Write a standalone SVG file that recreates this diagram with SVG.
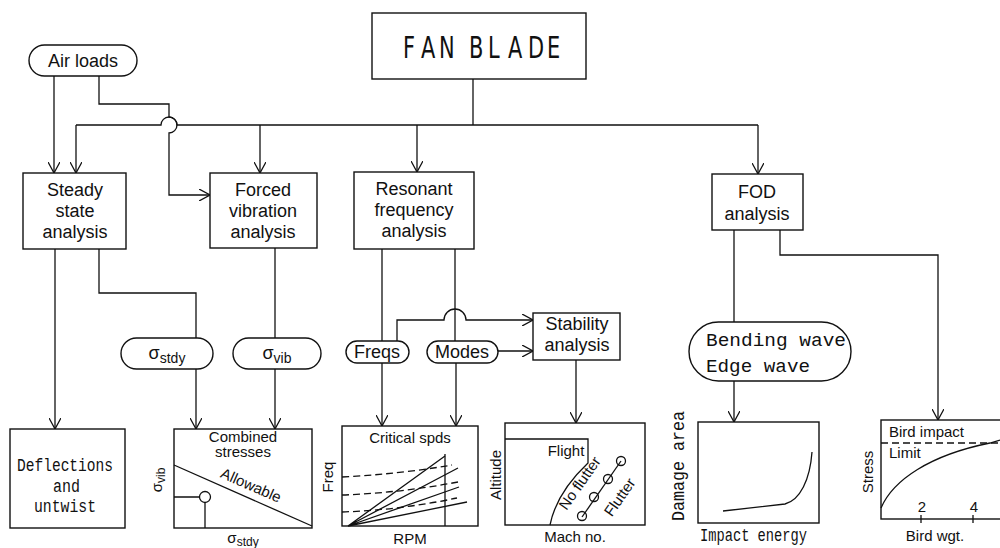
<svg xmlns="http://www.w3.org/2000/svg" width="1000" height="548" viewBox="0 0 1000 548">
<defs>
<style>
.box{fill:#fff;stroke:#111;stroke-width:1.4}
.ln{fill:none;stroke:#111;stroke-width:1.3}
.dash{fill:none;stroke:#111;stroke-width:1.3;stroke-dasharray:7 4}
.t{font-family:"Liberation Sans",Arial,sans-serif;font-size:18px;fill:#111;text-anchor:middle}
.s{font-family:"Liberation Sans",Arial,sans-serif;font-size:15px;fill:#111;text-anchor:middle}
.sl{font-family:"Liberation Sans",Arial,sans-serif;font-size:15px;fill:#111;text-anchor:start}
.m{font-family:"Liberation Mono","Courier New",monospace;font-size:18px;fill:#111}
</style>
<marker id="ar" viewBox="0 0 12 12" refX="11" refY="6" markerWidth="12" markerHeight="12" markerUnits="userSpaceOnUse" orient="auto">
<path d="M0,0 L11,6 L0,12" fill="none" stroke="#111" stroke-width="1.3"/>
</marker>
</defs>
<rect width="1000" height="548" fill="#fff"/>

<g id="connectors">
<path class="ln" d="M473,79 V125"/>
<path class="ln" d="M76,125 H161 A8,8 0 0 1 177,125 H758"/>
<path class="ln" d="M76,125 V173" marker-end="url(#ar)"/>
<path class="ln" d="M260,125 V173" marker-end="url(#ar)"/>
<path class="ln" d="M417,125 V172" marker-end="url(#ar)"/>
<path class="ln" d="M758,125 V174" marker-end="url(#ar)"/>
<path class="ln" d="M54,76 V173" marker-end="url(#ar)"/>
<path class="ln" d="M99,76 V104 H169 V117 A8,8 0 0 1 169,133 V195 H210" marker-end="url(#ar)"/>
<path class="ln" d="M55,249 V429" marker-end="url(#ar)"/>
<path class="ln" d="M99,249 V293 H196 V338"/>
<path class="ln" d="M196,369 V429" marker-end="url(#ar)"/>
<path class="ln" d="M275,248 V338"/>
<path class="ln" d="M275,369 V429" marker-end="url(#ar)"/>
<path class="ln" d="M382,249 V341"/>
<path class="ln" d="M382,363 V426" marker-end="url(#ar)"/>
<path class="ln" d="M455,249 V341"/>
<path class="ln" d="M456,363 V426" marker-end="url(#ar)"/>
<path class="ln" d="M397,341 V320 H444 A11,11 0 0 1 466,320 H533" marker-end="url(#ar)"/>
<path class="ln" d="M498,351 H533" marker-end="url(#ar)"/>
<path class="ln" d="M576,360 V423" marker-end="url(#ar)"/>
<path class="ln" d="M734,230 V322"/>
<path class="ln" d="M734,381 V422" marker-end="url(#ar)"/>
<path class="ln" d="M780,230 V255 H938 V420" marker-end="url(#ar)"/>
</g>

<g id="fan-blade">
<rect class="box" x="372" y="13" width="214" height="66"/>
<text transform="scale(0.75,1)" x="537.3 561.3 585.3 605.3 625.3 650.7 677.3 704 729.3" y="58" font-family="'DejaVu Sans Condensed','Liberation Sans',sans-serif" font-size="31" fill="#111">FAN BLADE</text>
</g>

<g id="air-loads">
<rect class="box" x="29" y="45" width="108" height="31" rx="15.5"/>
<text class="t" x="83" y="67">Air loads</text>
</g>

<g id="steady">
<rect class="box" x="23" y="173" width="103" height="76"/>
<text class="t" x="75" y="196">Steady</text>
<text class="t" x="75" y="217">state</text>
<text class="t" x="75" y="238">analysis</text>
</g>

<g id="forced">
<rect class="box" x="210" y="173" width="107" height="75"/>
<text class="t" x="263" y="196">Forced</text>
<text class="t" x="263" y="217">vibration</text>
<text class="t" x="263" y="238">analysis</text>
</g>

<g id="resonant">
<rect class="box" x="354" y="172" width="120" height="77"/>
<text class="t" x="414" y="195">Resonant</text>
<text class="t" x="414" y="216">frequency</text>
<text class="t" x="414" y="237">analysis</text>
</g>

<g id="fod">
<rect class="box" x="712" y="174" width="91" height="56"/>
<text class="t" x="757" y="198">FOD</text>
<text class="t" x="757" y="220">analysis</text>
</g>

<g id="sigma-stdy">
<rect class="box" x="121" y="338" width="92" height="31" rx="15.5"/>
<text class="t" x="167" y="359">σ<tspan font-size="14" dy="4">stdy</tspan></text>
</g>

<g id="sigma-vib">
<rect class="box" x="233" y="338" width="88" height="31" rx="15.5"/>
<text class="t" x="277" y="359">σ<tspan font-size="14" dy="4">vib</tspan></text>
</g>

<g id="freqs">
<rect class="box" x="346" y="341" width="63" height="22" rx="11"/>
<text class="t" x="377" y="358">Freqs</text>
</g>

<g id="modes">
<rect class="box" x="427" y="341" width="71" height="22" rx="11"/>
<text class="t" x="462" y="358">Modes</text>
</g>

<g id="stability">
<rect class="box" x="533" y="313" width="87" height="47"/>
<text class="t" x="577" y="330">Stability</text>
<text class="t" x="577" y="351">analysis</text>
</g>

<g id="bending">
<rect class="box" x="689" y="322" width="162" height="59" rx="29.5"/>
<text class="m" x="706" y="346" font-size="20" textLength="140" lengthAdjust="spacingAndGlyphs">Bending wave</text>
<text class="m" x="706" y="372" font-size="20" textLength="104" lengthAdjust="spacingAndGlyphs">Edge wave</text>
</g>

<g id="deflections">
<rect class="box" x="10" y="429" width="115" height="99"/>
<text class="m" x="17" y="471" textLength="96" lengthAdjust="spacingAndGlyphs">Deflections</text>
<text class="m" x="53" y="492" textLength="27" lengthAdjust="spacingAndGlyphs">and</text>
<text class="m" x="34" y="512" textLength="62" lengthAdjust="spacingAndGlyphs">untwist</text>
</g>

<g id="combined">
<rect class="box" x="174" y="429" width="138" height="99"/>
<text class="s" x="243" y="442" font-size="12.5">Combined</text>
<text class="s" x="243" y="457" font-size="12.5">stresses</text>
<path class="ln" d="M174,465 L312,526"/>
<text class="s" transform="translate(249,490) rotate(23.8)">Allowable</text>
<circle class="ln" cx="205" cy="497" r="5.5" fill="#fff"/>
<path class="ln" d="M174,497 H199.5 M205,502.5 V528"/>
<text class="s" transform="translate(162,480) rotate(-90)">σ<tspan font-size="12" dy="3">vib</tspan></text>
<text class="s" x="243" y="543">σ<tspan font-size="12" dy="3">stdy</tspan></text>
</g>

<g id="critical">
<rect class="box" x="342" y="426" width="136" height="100"/>
<text class="s" x="410" y="443">Critical spds</text>
<path class="ln" d="M445,454 V526"/>
<path class="ln" d="M348,526 L445,456 M348,526 L458,468 M348,526 L459,487 M348,526 L467,502"/>
<path class="dash" d="M342,477 Q400,474 452,465 M342,495 Q400,493 458,482 M342,512 Q400,510 457,498"/>
<text class="s" transform="translate(333,477) rotate(-90)">Freq</text>
<text class="s" x="410" y="544">RPM</text>
</g>

<g id="flutter">
<rect class="box" x="505" y="423" width="140" height="102"/>
<path class="ln" d="M505,439 H588 V463 C570,480 555,500 550,525"/>
<text class="s" x="566" y="456">Flight</text>
<path class="ln" d="M621,461 L582,517"/>
<circle class="ln" cx="621" cy="461" r="4.5" fill="#fff"/>
<circle class="ln" cx="608" cy="479" r="4.5" fill="#fff"/>
<circle class="ln" cx="594" cy="497" r="4.5" fill="#fff"/>
<circle class="ln" cx="582" cy="516" r="4.5" fill="#fff"/>
<text class="s" font-size="14" transform="translate(584,486) rotate(-55)">No flutter</text>
<text class="s" font-size="14" transform="translate(624,500) rotate(-55)">Flutter</text>
<text class="s" transform="translate(501,475) rotate(-90)">Altitude</text>
<text class="s" x="575" y="542">Mach no.</text>
</g>

<g id="damage">
<rect class="box" x="698" y="422" width="121" height="101"/>
<path class="ln" d="M723,511 L785,504 C800,500 810,480 812,452"/>
<text class="m" font-size="20" transform="translate(684,466) rotate(-90)" text-anchor="middle" textLength="110" lengthAdjust="spacingAndGlyphs">Damage area</text>
<text class="m" font-size="18" x="700" y="541" textLength="107" lengthAdjust="spacingAndGlyphs">Impact energy</text>
</g>

<g id="bird">
<rect class="box" x="881" y="420" width="130" height="99"/>
<text class="sl" x="889" y="437">Bird impact</text>
<path class="dash" d="M881,443 H1000"/>
<text class="sl" x="889" y="458">Limit</text>
<path class="ln" d="M881,508 C893,480 930,455 990,443 L1000,440"/>
<path class="ln" d="M921,515 V523 M973,515 V523"/>
<text class="s" x="922" y="512">2</text>
<text class="s" x="974" y="512">4</text>
<text class="s" transform="translate(873,472) rotate(-90)">Stress</text>
<text class="s" x="935" y="541">Bird wgt.</text>
</g>
</svg>
